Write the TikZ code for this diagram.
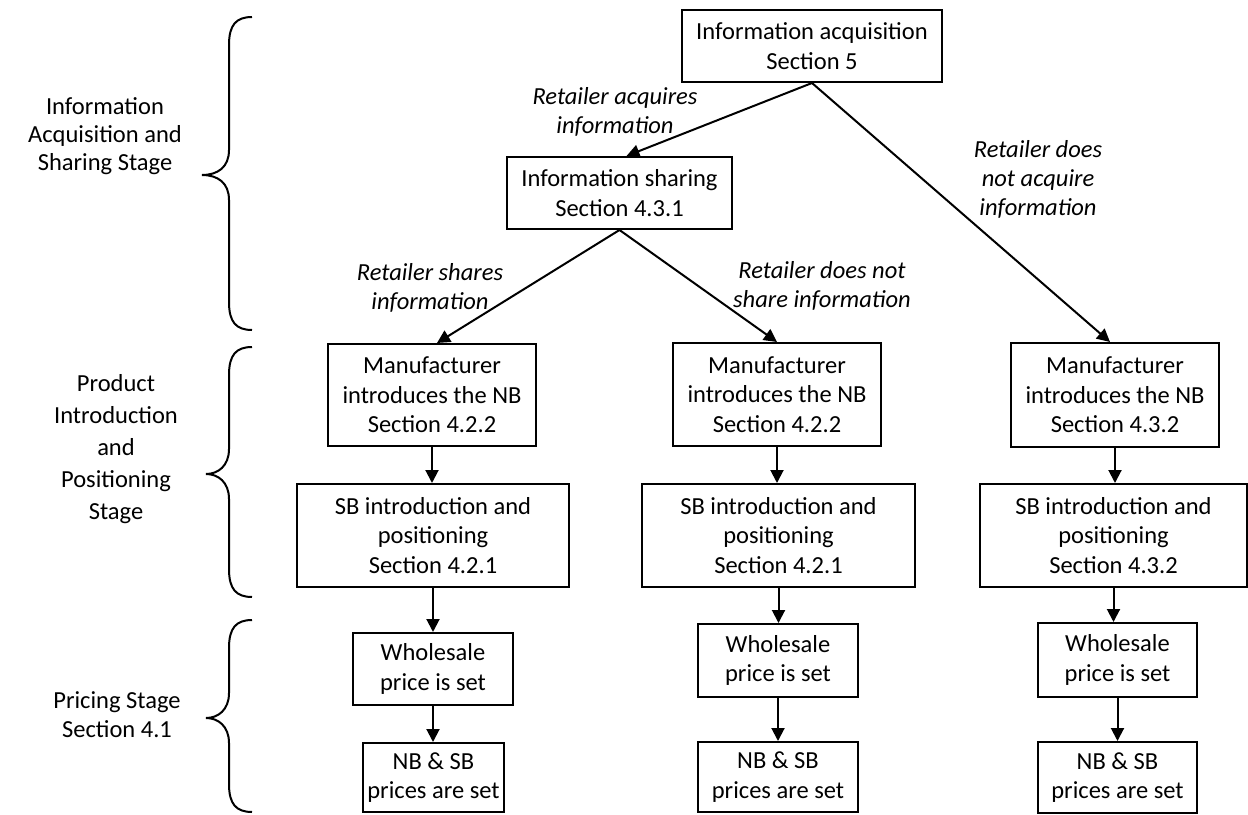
\documentclass[tikz,border=0pt]{standalone}
\usepackage{fontspec}
\setmainfont{Carlito}
\usetikzlibrary{arrows.meta}
\newcommand{\stagebrace}[4]{%
  \draw[brc] (252,#1) .. controls (236,#1) and (229,{#1+8}) .. (229,{#1+28})
    -- (229,{#2-25}) .. controls (229,{#2-8}) and (218,#2) .. (#4,#2)
    .. controls (218,#2) and (229,{#2+8}) .. (229,{#2+25})
    -- (229,{#3-28}) .. controls (229,{#3-8}) and (236,#3) .. (252,#3);}
\begin{document}
\begin{tikzpicture}[x=1bp,y=-1bp,
  box/.style={draw, line width=2bp, align=center, inner sep=0pt, font=\fontsize{24.6}{29.6}\selectfont},
  lbl/.style={align=center, inner sep=0pt, font=\fontsize{24.6}{29.1}\selectfont\itshape},
  stage/.style={align=center, inner sep=0pt},
  arr/.style={line width=2bp, -{Triangle[length=13bp,width=13bp]}},
  brc/.style={line width=2bp}]
\useasboundingbox (0,0) rectangle (1248,815);

% boxes
\node[box, minimum width=260bp, minimum height=72bp] (acq) at (812,46) {Information acquisition\\Section 5};
\node[box, minimum width=225bp, minimum height=72bp] (shr) at (619.5,193) {Information sharing\\Section 4.3.1};

\node[box, minimum width=208bp, minimum height=102bp] (lman) at (432,395) {Manufacturer\\introduces the NB\\Section 4.2.2};
\node[box, minimum width=272bp, minimum height=103bp] (lsb) at (433,535.5) {SB introduction and\\positioning\\Section 4.2.1};
\node[box, minimum width=160bp, minimum height=72bp] (lws) at (433,669) {Wholesale\\price is set};
\node[box, minimum width=141bp, minimum height=69bp] (lnb) at (433.5,777.5) {NB \& SB\\prices are set};

\node[box, minimum width=208bp, minimum height=103bp] (mman) at (777,394.5) {Manufacturer\\introduces the NB\\Section 4.2.2};
\node[box, minimum width=273bp, minimum height=103bp] (msb) at (778.5,535.5) {SB introduction and\\positioning\\Section 4.2.1};
\node[box, minimum width=160bp, minimum height=73bp] (mws) at (778,660.5) {Wholesale\\price is set};
\node[box, minimum width=160bp, minimum height=70bp] (mnb) at (778,777) {NB \& SB\\prices are set};

\node[box, minimum width=208bp, minimum height=104bp] (rman) at (1115,395) {Manufacturer\\introduces the NB\\Section 4.3.2};
\node[box, minimum width=267bp, minimum height=103bp] (rsb) at (1113.5,535.5) {SB introduction and\\positioning\\Section 4.3.2};
\node[box, minimum width=159bp, minimum height=74bp] (rws) at (1117.5,660) {Wholesale\\price is set};
\node[box, minimum width=159bp, minimum height=71bp] (rnb) at (1117.5,777.5) {NB \& SB\\prices are set};

% connectors
\draw[arr] (acq.south) -- ([xshift=7bp]shr.north);
\draw[arr] (acq.south) -- ([xshift=-5bp]rman.north);
\draw[arr] (shr.south) -- ([xshift=5bp]lman.north);
\draw[arr] (shr.south) -- (mman.north);

\draw[arr] (lman.south) -- (lman.south |- lsb.north);
\draw[arr] (lsb.south) -- (lsb.south |- lws.north);
\draw[arr] (lws.south) -- (lws.south |- lnb.north);
\draw[arr] (mman.south) -- (mman.south |- msb.north);
\draw[arr] (msb.south) -- (msb.south |- mws.north);
\draw[arr] (mws.south) -- (mws.south |- mnb.north);
\draw[arr] (rman.south) -- (rman.south |- rsb.north);
\draw[arr] (rsb.south) -- (rsb.south |- rws.north);
\draw[arr] (rws.south) -- (rws.south |- rnb.north);

% edge labels
\node[lbl] (la) at (615,112) {Retailer acquires\\information};
\node[lbl] (lb) at (1038,179) {Retailer does\\not acquire\\information};
\node[lbl] (lc) at (430,288) {Retailer shares\\information};
\node[lbl] (ld) at (822,286) {Retailer does not\\share information};

% stage labels
\node[stage, font=\fontsize{24.6}{28.1}\selectfont] (s1) at (105,136) {Information\\Acquisition and\\Sharing Stage};
\node[stage, font=\fontsize{24.6}{32.1}\selectfont] (s2) at (116,449) {Product\\Introduction\\and\\Positioning\\Stage};
\node[stage, font=\fontsize{24.6}{29.1}\selectfont] (s3) at (117,715) {Pricing Stage\\Section 4.1};

% braces
\stagebrace{17}{175}{330}{202}
\stagebrace{347}{474}{597}{206}
\stagebrace{620}{718}{812}{206}
\end{tikzpicture}
\end{document}
